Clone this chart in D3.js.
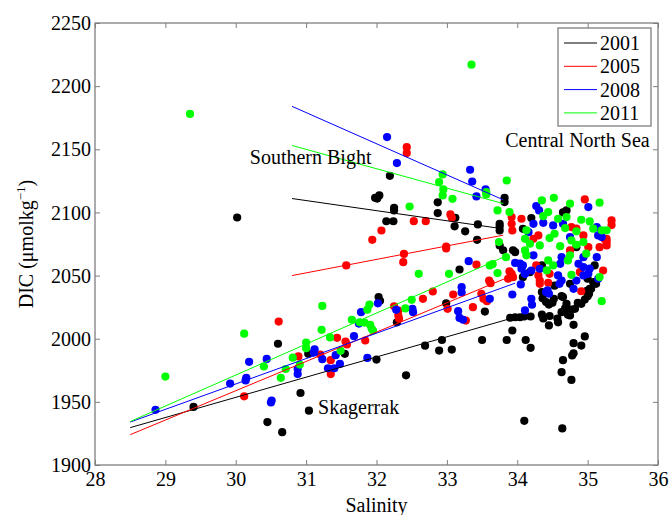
<!DOCTYPE html>
<html>
<head>
<meta charset="utf-8">
<script src="https://cdn.jsdelivr.net/npm/d3@7"></script>
<style>
  body { margin: 0; background: #fff; }
  svg { display: block; }
</style>
</head>
<body>
<svg id="chart" width="670" height="515"></svg>
<script>
// scatter data: [salinity, DIC]
var years = ["2001", "2005", "2008", "2011"];
var colors = ["#000000", "#ff0000", "#0000ff", "#00ff00"];

var pts2001 = [
  [29.40,1946],[30.60,1996],[30.45,1934],[30.66,1926],[30.92,1957],[31.04,1943],[31.03,1988],[31.55,1988],
  [32.03,2033],[32.05,2030],[32.00,1983.5],[32.42,1971],[32.29,2013],[32.99,2028],[33.54,2021.5],[32.69,1994.5],
  [32.89,1990.6],[32.93,1999],[33.07,1991.4],[33.50,1999],[33.85,1999],[33.93,2006.5],[33.90,2016.6],[33.97,2017],
  [34.04,2017],[34.10,2017.6],[34.19,2017.6],[34.12,1999],[34.19,1992.8],[34.10,1935],[34.64,1929],[34.65,1983],
  [34.63,1973.5],[34.77,1967.4],[34.78,1986.7],[34.80,1988.5],[34.80,1996.5],[34.91,1994.6],[34.96,2001.8],
  [34.36,2032],[34.41,2029],[34.45,2027],[34.50,2028.5],[34.52,2031.6],[34.35,2019],[34.37,2016],[34.46,2018],
  [34.45,2010.5],[34.57,2016],[34.58,2013],[34.63,2021],[34.68,2024],[34.70,2027.6],[34.63,2033.7],[34.72,2019],
  [34.76,2023],[34.82,2023.7],[34.75,2018.4],[34.80,2011],[34.86,2028.4],[34.91,2027.6],[34.96,2031],[35.00,2033.7],
  [34.99,2038],[35.05,2039.5],[35.08,2044.8],[35.02,2035.6],[35.00,2047.5],[35.03,2039.5],[35.12,2043.5],[34.53,2042],
  [34.65,2033],[34.75,2043.5],[34.20,2095.5],[34.08,2087],[34.65,2100],[34.70,2101.6],[33.94,2070],[33.97,2068.6],
  [35.10,2058],[34.35,2058],[33.80,2070],[34.18,2052.7],[34.35,2037],[34.84,2072.5],[34.08,2048.7],
  [30.02,2096],[32.19,2129],[31.98,2111.6],[32.04,2113.5],[32.01,2111],[32.25,2103.7],[32.25,2101.6],[32.14,2093],
  [32.24,2093],[32.87,2108],[32.87,2099.5],[33.12,2095.8],[33.11,2089],[33.26,2085],[33.44,2090.5],[33.43,2078.3],
  [33.75,2091],[33.75,2088.9],[33.82,2111.6],[33.82,2108.2],[33.75,2073.8],[33.18,2054.8],[33.75,2085.7]
];

var pts2005 = [
  [30.12,1954.4],[30.61,2013.6],[30.89,1986],[31.20,1987.5],[31.35,1983],[31.35,1972],[31.44,2000.7],[31.56,1997.8],
  [31.58,1995.4],[31.84,1998.6],[32.25,2025.7],[32.31,2022.3],[32.31,2018.4],[32.32,2015.8],[32.66,2031.6],[32.80,2037.4],
  [33.01,2023.7],[33.09,2035],[33.27,2014.4],[33.37,2025],[33.49,2035.6],[33.52,2031.6],[33.57,2029.7],[33.60,2046],
  [33.62,2044],[33.89,2053.3],[33.87,2047.5],[32.38,2060.6],[33.42,2058.6],
  [31.57,2058],[32.39,2067.2],[32.99,2073],[32.99,2071.5],[31.94,2078.3],[32.07,2085.7],[32.53,2093.1],[32.70,2093.1],
  [33.05,2098.4],[33.07,2095.8],[32.43,2151.7],[32.43,2147],[33.92,2096.3],[33.92,2091],[33.93,2085.7],
  [34.96,2110.3],[35.34,2093.7],[35.34,2090],[35.27,2079],[34.06,2095],[34.77,2088.4],[34.84,2087.1],[34.94,2081.8],
  [35.01,2072.5],[35.17,2072.5],[35.27,2073.9],[34.23,2079.1],[34.30,2081.8],[34.27,2058],[34.30,2050.1],[34.46,2051.4],
  [34.89,2052.7],[34.75,2069.9],[33.92,2051.4],[35.24,2079],[35.27,2076.5],[35.22,2054],[33.94,2048.7],[34.32,2046],
  [34.32,2043.5],[34.44,2044.3],[34.91,2037.6]
];

var pts2008 = [
  [28.86,1943.7],[29.92,1964.5],[30.14,1967],[30.15,1969],[30.19,1981.7],[30.44,1984],[30.50,1949.5],[30.51,1951],
  [30.88,1976],[30.88,1972],[31.11,1989],[31.12,1991.5],[31.23,1983.8],[31.31,1976.6],[31.42,1987],[31.48,1980],
  [31.40,1976.6],[31.78,2021],[31.75,2012],[31.68,2002],[31.87,1984.8],[32.02,2028],[32.28,2022.9],[32.51,2023.7],
  [32.52,2021],[33.16,2021.8],[33.18,2016.5],[33.23,2015],[33.21,2040.8],[33.21,2036.6],[33.61,2031.6],[33.31,2061.4],
  [33.93,2035],[34.05,2043],[34.11,2022.4],[34.20,2031.6],[34.21,2026.9],[34.43,2038.2],[34.45,2035.6],[34.41,2036.9],
  [32.15,2159.7],[32.29,2139.1],[33.33,2133.8],[33.36,2124.5],[33.42,2112.7],[33.55,2118.2],
  [34.27,2105],[34.31,2101.6],[35.01,2104.2],[34.23,2091],[34.37,2091.8],[34.51,2089.7],[34.65,2091],[34.75,2080.5],
  [35.15,2081.8],[35.13,2088.4],[35.20,2080.5],[34.16,2084.4],[34.23,2066],[34.08,2058],[34.11,2051.4],[34.63,2064.6],
  [34.61,2059.3],[34.87,2059.3],[34.94,2056.7],[35.01,2051.4],[34.94,2064.6],[35.13,2064.6],[34.32,2055.4],[34.58,2050.1],
  [34.94,2050.1],[33.97,2060],[34.04,2059.4],[34.06,2055.4],[34.11,2051.4],[34.20,2054],[34.63,2046],[34.60,2043.5],
  [34.84,2046],[34.80,2039.5],[35.15,2047.5],[35.03,2055.5]
];

var pts2011 = [
  [29.35,2178],[33.35,2217],[29.00,1970],[30.12,2004],
  [30.40,1978],[30.64,1969],[30.71,1976],[30.81,1985],[30.91,1979.5],[31.00,1997],[31.00,1992.5],[31.23,2026],
  [31.22,2007],[31.34,2001],[31.49,1990.4],[31.65,2015],[31.76,2013],[31.83,2012.8],[31.90,2027],[31.87,2023],
  [31.91,2011],[31.93,2008],[31.95,2006.5],[32.41,2024],[32.50,2030.8],[32.60,2051.4],[33.03,2051.4],[33.61,2058],
  [33.65,2059],[33.72,2052],[33.84,2064.6],
  [32.47,2104.7],[32.94,2130.1],[32.89,2124],[32.95,2118.2],[32.94,2113.5],[33.08,2110.8],[33.56,2116.1],[33.56,2114.2],
  [33.85,2125.3],[33.72,2101.6],[33.74,2076.5],[33.89,2100.3],
  [34.35,2109.5],[34.52,2111.6],[34.75,2106.9],[35.17,2107.7],[34.44,2100.3],[34.37,2097.1],[34.58,2095],[34.70,2096.3],
  [34.91,2094.2],[35.03,2092.9],[34.68,2087.6],[34.53,2083.1],[34.84,2085],[35.08,2087.1],[35.20,2085.8],[35.27,2085.8],
  [34.13,2085.8],[34.11,2079.1],[34.18,2075.2],[34.32,2073.9],[34.46,2079.7],[34.61,2073.3],[34.77,2077.8],[34.94,2076.5],
  [34.84,2074.4],[34.11,2069.9],[34.13,2066],[34.44,2062],[34.51,2058],[34.42,2054.1],[34.75,2066],[34.72,2062],
  [34.98,2067.3],[34.77,2050.6],[35.17,2048.8],[35.20,2029.7]
];

// regression lines: [salinity0, DIC0, salinity1, DIC1]
var southernBight = [[30.8,2111,33.8,2087],[30.8,2050,33.8,2082],[30.8,2184,33.8,2110],[30.8,2153,33.8,2107]];
var skagerrak = [[28.5,1929.6,33.97,2017],[28.5,1924,33.93,2050],[28.5,1934,33.97,2044],[28.5,1934.4,33.82,2065]];

var xTicks = [28, 29, 30, 31, 32, 33, 34, 35, 36];
var yTicks = [1900, 1950, 2000, 2050, 2100, 2150, 2200, 2250];

var svg = d3.select("#chart");
var pl = 95, pr = 658, pt = 23, pb = 465;
var axisColor = "#7f7f7f";
var serif = "'Liberation Serif', 'Times New Roman', serif";

var x = d3.scaleLinear().domain([28, 36]).range([pl, pr]);
var y = d3.scaleLinear().domain([1900, 2250]).range([pb, pt]);

// points
var allPts = [pts2001, pts2005, pts2008, pts2011];
allPts.forEach(function(pts, i){
  svg.append("g").selectAll("circle")
    .data(pts)
    .enter().append("circle")
    .attr("cx", d => x(d[0]))
    .attr("cy", d => y(d[1]))
    .attr("r", 4.1)
    .attr("fill", colors[i]);
});

// fit lines
[southernBight, skagerrak].forEach(function(set){
  svg.append("g").selectAll("line")
    .data(set)
    .enter().append("line")
    .attr("x1", d => x(d[0])).attr("y1", d => y(d[1]))
    .attr("x2", d => x(d[2])).attr("y2", d => y(d[3]))
    .attr("stroke", (d, i) => colors[i])
    .attr("stroke-width", 1);
});

// axes, ticks pointing inward
function styleAxis(g){
  g.select(".domain").remove();
  g.selectAll(".tick line").attr("stroke", axisColor);
  g.selectAll(".tick text").attr("fill", "#000");
  g.attr("font-family", serif).attr("font-size", 20);
}
svg.append("g").attr("transform", "translate(0," + pb + ")")
  .call(d3.axisBottom(x).tickValues(xTicks).tickFormat(d3.format("d")).tickSizeInner(-5).tickSizeOuter(0).tickPadding(7))
  .call(styleAxis);
svg.append("g").attr("transform", "translate(" + pl + ",0)")
  .call(d3.axisLeft(y).tickValues(yTicks).tickFormat(d3.format("d")).tickSizeInner(-5).tickSizeOuter(0).tickPadding(4))
  .call(styleAxis)
  .selectAll(".tick text").attr("dy", "0.33em");
svg.append("g").attr("transform", "translate(0," + pt + ")")
  .call(d3.axisTop(x).tickValues(xTicks).tickSizeInner(-5).tickSizeOuter(0).tickFormat(""))
  .call(styleAxis);
svg.append("g").attr("transform", "translate(" + pr + ",0)")
  .call(d3.axisRight(y).tickValues(yTicks).tickSizeInner(-5).tickSizeOuter(0).tickFormat(""))
  .call(styleAxis);

svg.append("rect")
  .attr("x", pl).attr("y", pt)
  .attr("width", pr - pl).attr("height", pb - pt)
  .attr("fill", "none").attr("stroke", axisColor).attr("stroke-width", 1.3);

// axis labels
svg.append("text")
  .attr("x", (pl + pr) / 2).attr("y", 512)
  .attr("text-anchor", "middle")
  .attr("font-family", serif).attr("font-size", 20)
  .text("Salinity");

var ylab = svg.append("text")
  .attr("transform", "translate(33," + (pt + pb) / 2 + ") rotate(-90)")
  .attr("text-anchor", "middle")
  .attr("font-family", serif).attr("font-size", 20);
ylab.append("tspan").text("DIC (μmolkg");
ylab.append("tspan").attr("dy", -8).attr("font-size", 13).text("−1");
ylab.append("tspan").attr("dy", 8).text(")");

// region labels
var labels = [["Southern Bight", 30.2, 2138], ["Central North Sea", 33.83, 2152], ["Skagerrak", 31.17, 1940]];
svg.selectAll(".region")
  .data(labels)
  .enter().append("text")
  .attr("class", "region")
  .attr("x", d => x(d[1])).attr("y", d => y(d[2]))
  .attr("font-family", serif).attr("font-size", 20)
  .text(d => d[0]);

// legend
var lg = svg.append("g").attr("transform", "translate(558,28)");
lg.append("rect").attr("width", 93).attr("height", 98)
  .attr("fill", "#fff").attr("stroke", axisColor).attr("stroke-width", 1.3);
years.forEach(function(yr, i){
  var cy = 15 + i * 23.3;
  lg.append("line").attr("x1", 6).attr("x2", 39).attr("y1", cy).attr("y2", cy)
    .attr("stroke", colors[i]).attr("stroke-width", 1);
  lg.append("text").attr("x", 42).attr("y", cy + 7)
    .attr("font-family", serif).attr("font-size", 20)
    .text(yr);
});
</script>
</body>
</html>
